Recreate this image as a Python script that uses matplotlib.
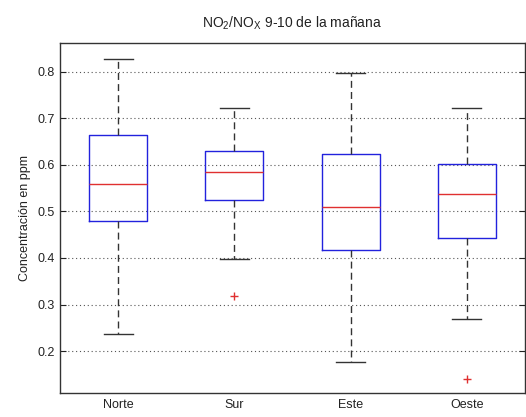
import matplotlib
matplotlib.use("Agg")
import matplotlib.pyplot as plt

plt.rcParams['font.family'] = ['Liberation Sans', 'DejaVu Sans']
plt.rcParams['mathtext.fontset'] = 'custom'
plt.rcParams['mathtext.rm'] = 'Liberation Sans'

categories = ["Norte", "Sur", "Este", "Oeste"]
whisker_low = [0.237, 0.397, 0.176, 0.269]
q1 = [0.480, 0.524, 0.418, 0.443]
medians = [0.559, 0.585, 0.510, 0.537]
q3 = [0.665, 0.629, 0.624, 0.602]
whisker_high = [0.828, 0.721, 0.797, 0.721]
outliers = [[], [0.318], [], [0.141]]
yticks = [0.2, 0.3, 0.4, 0.5, 0.6, 0.7, 0.8]

stats = []
for i, name in enumerate(categories):
    stats.append(dict(label=name, whislo=whisker_low[i], q1=q1[i], med=medians[i],
                      q3=q3[i], whishi=whisker_high[i], fliers=outliers[i]))

fig = plt.figure(figsize=(5.26, 4.17), dpi=100)
ax = fig.add_axes([60/526, 1-393/417, 465/526, (393-43.3)/417])

ax.bxp(stats, positions=[1, 2, 3, 4], widths=0.5, showfliers=True,
       boxprops=dict(color='#2222dd', linewidth=1.0),
       medianprops=dict(color='#e03030', linewidth=1.0),
       whiskerprops=dict(color='#333333', linewidth=1.0, linestyle=(0, (5, 3))),
       capprops=dict(color='#333333', linewidth=1.0),
       flierprops=dict(marker='+', markeredgecolor='#e03030', markersize=6, linestyle='none'),
       capwidths=0.25)

ax.set_xlim(0.5, 4.5)
ax.set_ylim(0.110, 0.861)
ax.set_yticks(yticks)
ax.set_yticklabels([f"{v:.1f}" for v in yticks])
ax.yaxis.grid(True, linestyle=(0, (1, 2.5)), color='#555555', linewidth=0.8)
ax.set_axisbelow(True)
ax.tick_params(axis='y', direction='in', right=True, length=4, labelsize=9, colors='#222222')
ax.tick_params(axis='x', length=0, labelsize=9, colors='#222222', pad=4)
for s in ax.spines.values():
    s.set_color('#333333')
    s.set_linewidth(1.0)

ax.set_ylabel("Concentración en ppm", fontsize=9, color='#222222', labelpad=5)
ax.set_title("NO$_\\mathregular{2}$/NO$_\\mathregular{X}$ 9-10 de la mañana", fontsize=10,
             color='#222222', pad=11)

fig.savefig("out.png", dpi=100)
